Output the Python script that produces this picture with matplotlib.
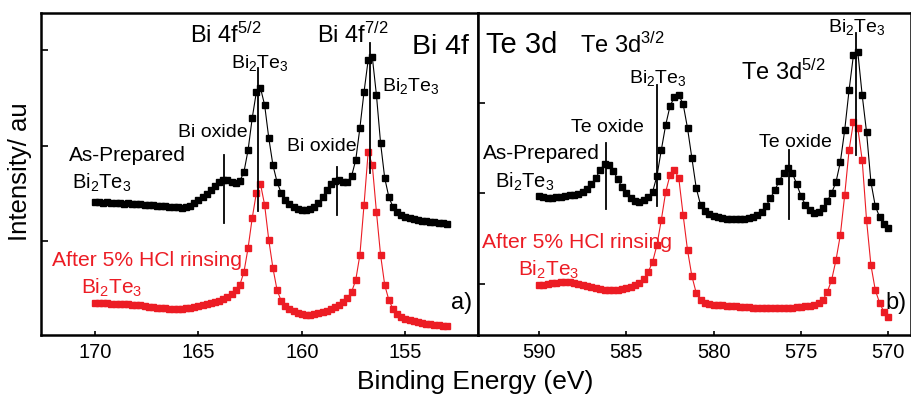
import numpy as np
import matplotlib
matplotlib.use("Agg")
import matplotlib.pyplot as plt

plt.rcParams['font.family'] = ['Liberation Sans', 'DejaVu Sans']
plt.rcParams['mathtext.fontset'] = 'custom'
plt.rcParams['mathtext.rm'] = 'Liberation Sans'
plt.rcParams['mathtext.it'] = 'Liberation Sans'
plt.rcParams['mathtext.default'] = 'regular'

# Bi 4f scan, 170 -> 153 eV, 0.2 eV step
bi_be = np.round(np.arange(170.0, 152.99, -0.2), 2)
bi_asprep = [133, 133, 132, 133, 132, 132, 132, 131, 132, 131,
             131, 131, 130, 130, 130, 129, 129, 129, 128, 128,
             128, 127, 128, 129, 132, 135, 138, 141, 145, 149,
             153, 155, 155, 153, 152, 154, 163, 185, 217, 243,
             247, 230, 197, 170, 153, 142, 135, 131, 128, 126,
             125, 125, 126, 128, 132, 138, 145, 151, 154, 155,
             153, 153, 159, 175, 207, 243, 275, 278, 240, 192,
             157, 138, 128, 123, 120, 118, 117, 116, 115, 114,
             114, 113, 113, 112, 112, 111]
bi_hcl = [32, 32, 32, 32, 31, 31, 31, 31, 31, 30,
          30, 30, 29, 28, 28, 27, 27, 27, 26, 26,
          26, 26, 27, 27, 28, 29, 30, 31, 32, 33,
          34, 36, 38, 41, 45, 50, 63, 87, 117, 142,
          151, 130, 95, 67, 45, 34, 29, 26, 24, 22,
          21, 20, 20, 21, 22, 23, 24, 26, 28, 30,
          33, 37, 43, 55, 80, 130, 183, 170, 123, 80,
          50, 35, 26, 21, 18, 16, 15, 14, 13, 12,
          11, 11, 10, 10, 9, 9]

# Te 3d scan, 590 -> 570 eV, 0.25 eV step
te_be = np.round(np.arange(590.0, 569.99, -0.25), 2)
te_asprep = [139, 138, 137, 137, 138, 138, 139, 140, 140, 141,
             143, 146, 151, 157, 165, 171, 170, 164, 156, 148,
             142, 137, 134, 133, 135, 138, 143, 159, 185, 210,
             229, 238, 240, 231, 207, 177, 147, 130, 124, 121,
             119, 118, 117, 116, 116, 116, 116, 116, 117, 118,
             120, 123, 129, 137, 145, 154, 162, 167, 162, 151,
             139, 130, 125, 122, 123, 127, 134, 142, 153, 173,
             205, 245, 280, 283, 240, 203, 153, 129, 118, 111,
             107]
te_hcl = [50, 50, 51, 52, 52, 53, 53, 53, 52, 51,
          50, 49, 48, 47, 46, 45, 45, 45, 45, 46,
          47, 48, 50, 52, 56, 63, 73, 90, 115, 143,
          160, 165, 157, 120, 85, 59, 42, 35, 32, 31,
          30, 30, 30, 29, 29, 29, 28, 28, 28, 27,
          27, 27, 27, 27, 27, 27, 27, 27, 27, 28,
          28, 29, 29, 30, 32, 35, 43, 55, 75, 100,
          140, 185, 213, 207, 175, 115, 70, 45, 32, 23,
          18]

# peak markers: (position, bottom, top)
bi_lines = [(163.77, 112, 180), (162.12, 124, 267), (158.31, 120, 168), (156.71, 162, 292)]
te_lines = [(586.18, 126, 192), (583.22, 129, 250), (575.71, 116, 185), (571.83, 180, 302)]

RED = '#ec1c24'

fig = plt.figure(figsize=(9.12, 3.96), dpi=100)
ax1 = fig.add_axes([0.045, 0.154, 0.479, 0.813])
ax2 = fig.add_axes([0.524, 0.154, 0.475, 0.813])

for ax in (ax1, ax2):
    for s in ax.spines.values():
        s.set_linewidth(1.8)
    ax.set_ylim(0, 322)
    ax.tick_params(axis='both', direction='in', length=3, width=1.2,
                   labelsize=14.5, pad=6)
    ax.tick_params(axis='y', length=5, labelleft=False)

def spectrum(ax, x, y, color):
    ax.plot(x, y, '-', color=color, lw=0.8, marker='s', ms=3.7,
            mec=color, mfc=color)

spectrum(ax1, bi_be, bi_asprep, 'black')
spectrum(ax1, bi_be, bi_hcl, RED)
for x, lo, hi in bi_lines:
    ax1.plot([x, x], [lo, hi], color='black', lw=1.3)
ax1.set_xlim(172.6, 151.5)
ax1.set_xticks([170, 165, 160, 155])
ax1.set_yticks([285, 189, 94])

spectrum(ax2, te_be, te_asprep, 'black')
spectrum(ax2, te_be, te_hcl, RED)
for x, lo, hi in te_lines:
    ax2.plot([x, x], [lo, hi], color='black', lw=1.3)
ax2.set_xlim(593.5, 568.7)
ax2.set_xticks([590, 585, 580, 575, 570])
ax2.set_yticks([232, 142, 51])

kw = dict(ha='center', va='center')
ax1.text(163.67, 300, 'Bi 4f$^{5/2}$', fontsize=17, **kw)
ax1.text(157.54, 300, 'Bi 4f$^{7/2}$', fontsize=17, **kw)
ax1.text(153.3, 288, 'Bi 4f', fontsize=20.5, **kw)
ax1.text(162.03, 272, 'Bi$_2$Te$_3$', fontsize=14, **kw)
ax1.text(154.73, 249, 'Bi$_2$Te$_3$', fontsize=14, **kw)
ax1.text(164.3, 203, 'Bi oxide', fontsize=14, **kw)
ax1.text(159.03, 189, 'Bi oxide', fontsize=14, **kw)
ax1.text(168.45, 180, 'As-Prepared', fontsize=15, **kw)
ax1.text(169.66, 152, 'Bi$_2$Te$_3$', fontsize=14.5, **kw)
ax1.text(167.49, 75, 'After 5% HCl rinsing', fontsize=15.2, color=RED, **kw)
ax1.text(169.18, 47, 'Bi$_2$Te$_3$', fontsize=15, color=RED, **kw)
ax1.text(152.3, 32, 'a)', fontsize=17, **kw)

ax2.text(591.02, 290, 'Te 3d', fontsize=21, **kw)
ax2.text(585.22, 290, 'Te 3d$^{3/2}$', fontsize=17, **kw)
ax2.text(583.22, 257, 'Bi$_2$Te$_3$', fontsize=14, **kw)
ax2.text(575.99, 263, 'Te 3d$^{5/2}$', fontsize=17, **kw)
ax2.text(571.83, 308, 'Bi$_2$Te$_3$', fontsize=14, **kw)
ax2.text(586.07, 208, 'Te oxide', fontsize=14, **kw)
ax2.text(575.31, 193, 'Te oxide', fontsize=14, **kw)
ax2.text(589.89, 182, 'As-Prepared', fontsize=15, **kw)
ax2.text(590.8, 153, 'Bi$_2$Te$_3$', fontsize=14.5, **kw)
ax2.text(587.84, 93, 'After 5% HCl rinsing', fontsize=15.2, color=RED, **kw)
ax2.text(589.43, 65, 'Bi$_2$Te$_3$', fontsize=15, color=RED, **kw)
ax2.text(569.55, 32, 'b)', fontsize=17, **kw)

fig.text(0.521, 0.035, 'Binding Energy (eV)', fontsize=19, ha='center', va='center')
fig.text(0.022, 0.566, 'Intensity/ au', fontsize=18.5, rotation=90, ha='center', va='center')

fig.savefig('out.png', dpi=100)
